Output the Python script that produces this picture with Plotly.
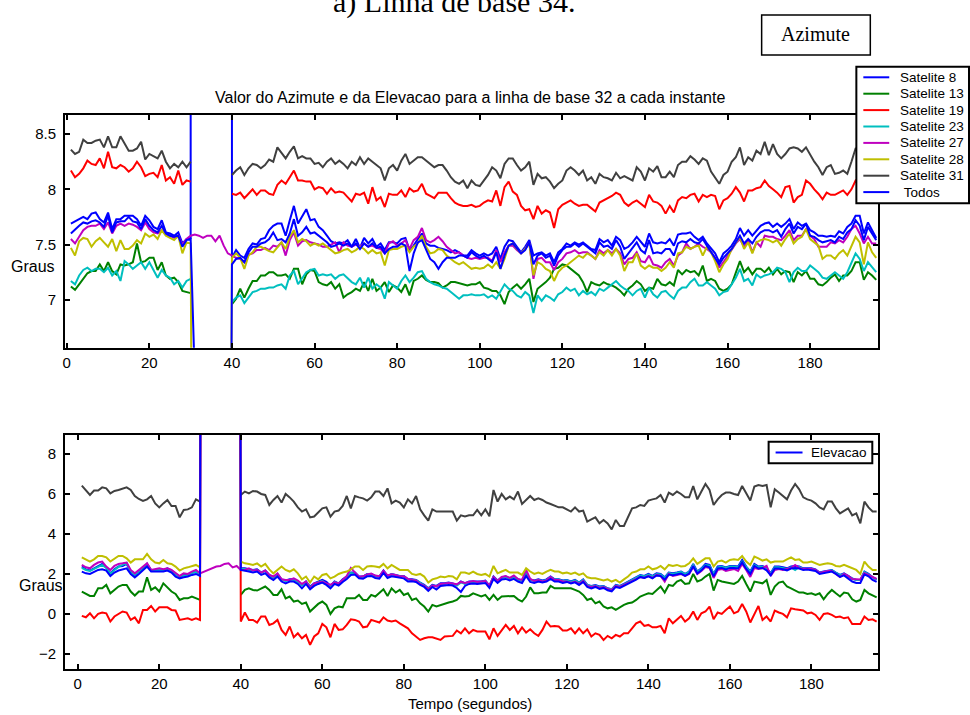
import plotly.graph_objects as go

# ---------------- data: top panel (Azimute), t = 1..196 s ----------------
az_sat8 = [
    7.69, 7.71, 7.73, 7.75, 7.73, 7.78, 7.79, 7.73, 7.70, 7.79,
    7.64, 7.73, 7.73, 7.76, 7.76, 7.76, 7.73, 7.67, 7.76, 7.72,
    7.66, 7.64, 7.72, 7.61, 7.60, 7.58, 7.61, 7.51, 7.55, 7.56,
    360, 360, 360, 360, 360, 360, 360, 360, 360,
    7.38, 7.45, 7.40, 7.38, 7.46, 7.51, 7.50, 7.55, 7.56, 7.63,
    7.67, 7.69, 7.69, 7.58, 7.72, 7.85, 7.69, 7.75, 7.82, 7.72,
    7.73, 7.66, 7.63, 7.58, 7.53, 7.51, 7.52, 7.51, 7.54, 7.48,
    7.55, 7.47, 7.56, 7.51, 7.55, 7.48, 7.51, 7.45, 7.52, 7.52,
    7.51, 7.55, 7.56, 7.45, 7.49, 7.55, 7.60, 7.51, 7.49, 7.49,
    7.47, 7.46, 7.45, 7.43, 7.45, 7.43, 7.40, 7.40, 7.45, 7.42,
    7.40, 7.42, 7.40, 7.42, 7.48, 7.37, 7.48, 7.54, 7.53, 7.48,
    7.43, 7.48, 7.54, 7.40, 7.42, 7.43, 7.40, 7.42, 7.34, 7.43,
    7.46, 7.51, 7.49, 7.52, 7.50, 7.52, 7.49, 7.46, 7.45, 7.55,
    7.52, 7.54, 7.49, 7.57, 7.54, 7.46, 7.48, 7.52, 7.57, 7.52,
    7.48, 7.60, 7.52, 7.51, 7.52, 7.51, 7.55, 7.49, 7.59, 7.60,
    7.60, 7.61, 7.57, 7.54, 7.57, 7.51, 7.46, 7.42, 7.34, 7.42,
    7.45, 7.49, 7.55, 7.65, 7.58, 7.63, 7.58, 7.63, 7.67, 7.69,
    7.70, 7.66, 7.69, 7.66, 7.69, 7.73, 7.64, 7.70, 7.67, 7.69,
    7.63, 7.61, 7.58, 7.58, 7.57, 7.58, 7.57, 7.62, 7.60, 7.66,
    7.69, 7.76, 7.76, 7.60, 7.70, 7.63, 7.56,
]
az_sat13 = [
    7.12, 7.09, 7.14, 7.19, 7.24, 7.26, 7.26, 7.32, 7.26, 7.34,
    7.26, 7.23, 7.32, 7.31, 7.32, 7.34, 7.51, 7.34, 7.35, 7.38,
    7.38, 7.27, 7.34, 7.22, 7.19, 7.20, 7.16, 7.08, 7.07, 7.06,
    None, None, None, None, None, None, None, None, None,
    6.96, 7.01, 7.10, 7.02, 7.10, 7.17, 7.17, 7.22, 7.22, 7.25,
    7.25, 7.22, 7.22, 7.23, 7.19, 7.28, 7.28, 7.14, 7.23, 7.27,
    7.26, 7.16, 7.14, 7.13, 7.16, 7.10, 7.14, 7.02, 7.05, 7.07,
    7.10, 7.08, 7.16, 7.08, 7.19, 7.08, 7.11, 7.16, 7.07, 7.13,
    7.11, 7.07, 7.14, 7.04, 7.17, 7.19, 7.22, 7.18, 7.16, 7.16,
    7.15, 7.11, 7.13, 7.16, 7.16, 7.15, 7.14, 7.13, 7.14, 7.14,
    7.16, 7.11, 7.10, 7.08, 7.08, 7.04, 6.96, 7.07, 7.11, 7.14,
    7.10, 7.14, 7.19, 6.98, 7.10, 7.13, 7.16, 7.20, 7.28, 7.29,
    7.32, 7.31, 7.28, 7.25, 7.22, 7.16, 7.07, 7.16, 7.14, 7.13,
    7.16, 7.14, 7.13, 7.11, 7.08, 7.04, 7.10, 7.13, 7.17, 7.14,
    7.08, 7.11, 7.10, 7.19, 7.14, 7.13, 7.16, 7.13, 7.27, 7.23,
    7.27, 7.25, 7.26, 7.22, 7.31, 7.17, 7.19, 7.17, 7.10, 7.08,
    7.10, 7.14, 7.25, 7.35, 7.25, 7.29, 7.23, 7.28, 7.28, 7.25,
    7.29, 7.23, 7.28, 7.23, 7.26, 7.25, 7.16, 7.25, 7.22, 7.26,
    7.19, 7.19, 7.14, 7.13, 7.16, 7.20, 7.23, 7.17, 7.22, 7.22,
    7.26, 7.34, 7.34, 7.18, 7.25, 7.22, 7.18,
]
az_sat19 = [
    8.17, 8.11, 8.14, 8.19, 8.26, 8.23, 8.22, 8.28, 8.19, 8.34,
    8.20, 8.19, 8.22, 8.20, 8.16, 8.19, 8.25, 8.20, 8.12, 8.14,
    8.15, 8.11, 8.22, 8.08, 8.11, 8.05, 8.17, 8.04, 8.08, 8.07,
    None, None, None, None, None, None, None, None, None,
    7.96, 7.95, 7.97, 7.92, 7.96, 8.00, 7.95, 7.99, 7.99, 7.96,
    7.95, 8.04, 8.08, 8.05, 8.11, 8.17, 8.08, 8.08, 8.07, 8.07,
    8.00, 8.02, 8.01, 7.96, 8.01, 7.97, 7.98, 7.97, 7.93, 7.89,
    7.96, 7.95, 7.97, 7.87, 8.02, 7.90, 7.93, 7.84, 7.96, 7.95,
    7.95, 7.99, 7.93, 8.01, 7.98, 7.99, 8.05, 7.96, 7.94, 7.92,
    7.97, 7.97, 7.97, 7.92, 7.88, 7.86, 7.85, 7.85, 7.86, 7.84,
    7.85, 7.88, 7.90, 7.89, 7.99, 7.85, 8.02, 8.07, 7.98, 7.95,
    7.85, 7.81, 7.82, 7.73, 7.85, 7.78, 7.81, 7.79, 7.65, 7.82,
    7.86, 7.88, 7.90, 7.87, 7.85, 7.86, 7.86, 7.83, 7.80, 7.88,
    7.90, 7.92, 7.94, 7.97, 7.95, 7.88, 7.85, 7.88, 7.90, 7.87,
    7.84, 7.95, 7.89, 7.88, 7.85, 7.78, 7.85, 7.79, 7.90, 7.93,
    7.92, 7.95, 7.96, 7.89, 7.95, 7.93, 7.95, 7.94, 7.82, 7.90,
    7.92, 7.96, 8.02, 7.97, 7.89, 7.99, 7.99, 8.01, 8.02, 8.08,
    8.03, 8.00, 7.97, 7.93, 8.02, 8.03, 7.88, 7.93, 7.95, 8.08,
    8.05, 8.00, 7.96, 7.91, 7.97, 7.95, 7.95, 7.97, 7.99, 7.95,
    8.00, 8.08, 8.05, 8.10, 8.08, 8.12, 8.10,
]
az_sat23 = [
    7.17, 7.14, 7.22, 7.27, 7.29, 7.26, 7.28, 7.28, 7.25, 7.29,
    7.22, 7.26, 7.17, 7.35, 7.32, 7.28, 7.31, 7.34, 7.28, 7.34,
    7.27, 7.20, 7.27, 7.22, 7.20, 7.14, 7.17, 7.11, 7.17, 7.19,
    None, None, None, None, None, None, None, None, None,
    6.98, 7.02, 7.04, 6.97, 7.02, 7.07, 7.08, 7.10, 7.10, 7.11,
    7.11, 7.13, 7.14, 7.10, 7.22, 7.26, 7.14, 7.19, 7.25, 7.27,
    7.28, 7.22, 7.23, 7.22, 7.23, 7.19, 7.22, 7.23, 7.19, 7.16,
    7.14, 7.20, 7.11, 7.20, 7.10, 7.14, 7.11, 7.01, 7.16, 7.13,
    7.10, 7.17, 7.22, 7.16, 7.20, 7.25, 7.26, 7.19, 7.16, 7.14,
    7.13, 7.11, 7.10, 7.07, 7.04, 7.01, 7.04, 7.04, 7.05, 7.04,
    7.04, 7.05, 7.02, 7.04, 7.01, 7.08, 7.14, 7.10, 7.08, 7.04,
    7.02, 7.07, 7.04, 6.88, 7.04, 6.99, 7.04, 7.02, 6.99, 7.05,
    7.07, 7.11, 7.08, 7.10, 7.04, 7.08, 7.05, 7.07, 7.04, 7.10,
    7.08, 7.11, 7.14, 7.17, 7.13, 7.10, 7.08, 7.04, 7.08, 7.10,
    7.02, 7.11, 7.05, 7.02, 7.07, 7.08, 7.04, 7.01, 7.08, 7.11,
    7.11, 7.16, 7.19, 7.13, 7.13, 7.16, 7.13, 7.10, 7.04, 7.07,
    7.08, 7.14, 7.20, 7.28, 7.17, 7.19, 7.13, 7.23, 7.20, 7.22,
    7.23, 7.25, 7.29, 7.28, 7.25, 7.16, 7.25, 7.29, 7.26, 7.26,
    7.31, 7.28, 7.25, 7.20, 7.19, 7.22, 7.25, 7.22, 7.19, 7.25,
    7.34, 7.42, 7.37, 7.26, 7.34, 7.29, 7.25,
]
az_sat27 = [
    7.55, 7.51, 7.57, 7.63, 7.66, 7.67, 7.67, 7.69, 7.64, 7.70,
    7.60, 7.67, 7.69, 7.67, 7.69, 7.68, 7.66, 7.63, 7.70, 7.64,
    7.61, 7.60, 7.63, 7.59, 7.58, 7.56, 7.58, 7.50, 7.55, 7.58,
    7.59, 7.58, 7.56, 7.58, 7.58, 7.53, 7.58, 7.49, 7.42,
    7.40, 7.38, 7.37, 7.34, 7.41, 7.42, 7.45, 7.45, 7.47, 7.45,
    7.49, 7.48, 7.52, 7.40, 7.54, 7.61, 7.49, 7.53, 7.54, 7.52,
    7.51, 7.50, 7.48, 7.48, 7.50, 7.52, 7.43, 7.52, 7.49, 7.48,
    7.50, 7.48, 7.51, 7.48, 7.49, 7.47, 7.46, 7.42, 7.51, 7.53,
    7.49, 7.51, 7.54, 7.46, 7.54, 7.57, 7.65, 7.54, 7.52, 7.54,
    7.57, 7.53, 7.48, 7.45, 7.42, 7.43, 7.40, 7.38, 7.37, 7.38,
    7.37, 7.38, 7.38, 7.35, 7.45, 7.34, 7.43, 7.49, 7.49, 7.45,
    7.42, 7.46, 7.52, 7.19, 7.37, 7.38, 7.34, 7.34, 7.27, 7.34,
    7.37, 7.42, 7.43, 7.45, 7.42, 7.43, 7.43, 7.40, 7.37, 7.45,
    7.42, 7.45, 7.42, 7.46, 7.42, 7.32, 7.37, 7.38, 7.43, 7.35,
    7.34, 7.40, 7.32, 7.31, 7.29, 7.34, 7.37, 7.31, 7.40, 7.43,
    7.51, 7.46, 7.48, 7.51, 7.48, 7.46, 7.43, 7.38, 7.29, 7.34,
    7.40, 7.45, 7.51, 7.55, 7.48, 7.54, 7.43, 7.52, 7.48, 7.58,
    7.57, 7.57, 7.55, 7.54, 7.58, 7.63, 7.54, 7.58, 7.58, 7.64,
    7.58, 7.55, 7.48, 7.48, 7.48, 7.52, 7.51, 7.54, 7.52, 7.57,
    7.64, 7.67, 7.60, 7.51, 7.57, 7.51, 7.51,
]
az_sat28 = [
    7.47, 7.40, 7.53, 7.56, 7.55, 7.48, 7.53, 7.56, 7.52, 7.48,
    7.55, 7.44, 7.54, 7.46, 7.46, 7.49, 7.54, 7.51, 7.60, 7.57,
    7.59, 7.55, 7.63, 7.58, 7.56, 7.54, 7.58, 7.42, 7.52, 7.51,
    0, 0, 0, 0, 0, 0, 0, 0, 0,
    7.38, 7.42, 7.38, 7.28, 7.40, 7.43, 7.48, 7.48, 7.46, 7.44,
    7.43, 7.48, 7.52, 7.46, 7.57, 7.63, 7.52, 7.55, 7.53, 7.49,
    7.51, 7.49, 7.51, 7.48, 7.45, 7.42, 7.43, 7.45, 7.46, 7.43,
    7.45, 7.48, 7.46, 7.42, 7.45, 7.42, 7.43, 7.31, 7.45, 7.46,
    7.46, 7.48, 7.49, 7.43, 7.48, 7.51, 7.58, 7.48, 7.42, 7.43,
    7.46, 7.45, 7.40, 7.37, 7.34, 7.32, 7.34, 7.31, 7.28, 7.29,
    7.28, 7.29, 7.32, 7.29, 7.34, 7.28, 7.37, 7.49, 7.51, 7.46,
    7.42, 7.46, 7.51, 7.22, 7.34, 7.32, 7.28, 7.26, 7.17, 7.25,
    7.29, 7.31, 7.34, 7.37, 7.40, 7.38, 7.42, 7.40, 7.37, 7.43,
    7.40, 7.45, 7.40, 7.46, 7.40, 7.26, 7.34, 7.34, 7.42, 7.31,
    7.28, 7.31, 7.29, 7.29, 7.26, 7.29, 7.34, 7.29, 7.42, 7.43,
    7.48, 7.46, 7.48, 7.49, 7.40, 7.48, 7.43, 7.35, 7.25, 7.32,
    7.37, 7.46, 7.51, 7.57, 7.46, 7.52, 7.42, 7.52, 7.54, 7.55,
    7.54, 7.52, 7.54, 7.49, 7.55, 7.60, 7.51, 7.55, 7.57, 7.64,
    7.55, 7.52, 7.49, 7.37, 7.40, 7.40, 7.37, 7.42, 7.45, 7.40,
    7.49, 7.57, 7.52, 7.32, 7.52, 7.43, 7.38,
]
az_sat31 = [
    8.36, 8.32, 8.34, 8.45, 8.42, 8.42, 8.44, 8.45, 8.38, 8.48,
    8.38, 8.38, 8.48, 8.42, 8.35, 8.35, 8.37, 8.43, 8.27, 8.32,
    8.30, 8.28, 8.35, 8.25, 8.19, 8.23, 8.20, 8.25, 8.20, 8.25,
    None, None, None, None, None, None, None, None, None,
    8.13, 8.17, 8.20, 8.13, 8.19, 8.23, 8.22, 8.19, 8.22, 8.27,
    8.25, 8.38, 8.33, 8.28, 8.34, 8.39, 8.28, 8.30, 8.28, 8.28,
    8.23, 8.24, 8.20, 8.25, 8.28, 8.23, 8.26, 8.23, 8.19, 8.25,
    8.22, 8.29, 8.23, 8.28, 8.25, 8.22, 8.19, 8.08, 8.19, 8.22,
    8.17, 8.26, 8.32, 8.23, 8.26, 8.29, 8.29, 8.26, 8.23, 8.20,
    8.22, 8.22, 8.17, 8.11, 8.07, 8.05, 8.08, 8.01, 8.08, 8.04,
    8.03, 8.08, 8.13, 8.20, 8.17, 8.10, 8.23, 8.28, 8.28, 8.22,
    8.17, 8.20, 8.25, 8.04, 8.14, 8.10, 8.11, 8.07, 8.01, 8.05,
    8.08, 8.17, 8.20, 8.17, 8.13, 8.17, 8.08, 8.11, 8.05, 8.14,
    8.11, 8.10, 8.08, 8.15, 8.10, 8.12, 8.10, 8.08, 8.20, 8.16,
    8.08, 8.19, 8.16, 8.21, 8.11, 8.11, 8.16, 8.11, 8.22, 8.25,
    8.25, 8.30, 8.27, 8.23, 8.28, 8.26, 8.16, 8.11, 8.05, 8.13,
    8.16, 8.25, 8.29, 8.38, 8.22, 8.29, 8.26, 8.35, 8.32, 8.43,
    8.31, 8.41, 8.32, 8.28, 8.32, 8.37, 8.38, 8.37, 8.34, 8.38,
    8.31, 8.25, 8.20, 8.13, 8.20, 8.22, 8.14, 8.15, 8.17, 8.14,
    8.25, 8.37, 8.38, 8.33, 8.36, 8.30, 8.34,
]
az_todos = [
    7.60, 7.64, 7.67, 7.70, 7.69, 7.71, 7.72, 7.70, 7.66, 7.76,
    7.61, 7.70, 7.71, 7.71, 7.75, 7.71, 7.70, 7.64, 7.73, 7.67,
    7.63, 7.61, 7.67, 7.60, 7.58, 7.57, 7.58, 7.48, 7.54, 7.55,
    0, 0, 0, 0, 0, 0, 0, 0, 0,
    7.32, 7.37, 7.38, 7.34, 7.43, 7.48, 7.48, 7.51, 7.52, 7.55,
    7.61, 7.54, 7.55, 7.52, 7.60, 7.73, 7.58, 7.61, 7.66, 7.60,
    7.61, 7.58, 7.55, 7.52, 7.48, 7.49, 7.51, 7.49, 7.51, 7.48,
    7.51, 7.46, 7.51, 7.48, 7.51, 7.47, 7.48, 7.42, 7.46, 7.48,
    7.48, 7.51, 7.49, 7.26, 7.42, 7.52, 7.54, 7.45, 7.37, 7.34,
    7.28, 7.34, 7.38, 7.38, 7.38, 7.40, 7.40, 7.38, 7.43, 7.40,
    7.38, 7.40, 7.37, 7.34, 7.43, 7.28, 7.40, 7.49, 7.51, 7.46,
    7.42, 7.45, 7.52, 7.32, 7.40, 7.42, 7.38, 7.40, 7.31, 7.40,
    7.45, 7.48, 7.48, 7.51, 7.48, 7.51, 7.48, 7.45, 7.42, 7.52,
    7.48, 7.49, 7.46, 7.54, 7.48, 7.37, 7.42, 7.46, 7.52, 7.45,
    7.42, 7.54, 7.42, 7.43, 7.42, 7.46, 7.46, 7.40, 7.51, 7.53,
    7.52, 7.55, 7.52, 7.51, 7.55, 7.49, 7.43, 7.38, 7.32, 7.38,
    7.42, 7.46, 7.52, 7.58, 7.51, 7.55, 7.51, 7.57, 7.61, 7.63,
    7.63, 7.61, 7.63, 7.57, 7.64, 7.69, 7.60, 7.66, 7.64, 7.69,
    7.58, 7.57, 7.54, 7.52, 7.53, 7.54, 7.52, 7.57, 7.55, 7.61,
    7.64, 7.72, 7.67, 7.54, 7.66, 7.60, 7.54,
]

# ---------------- data: bottom panel (Elevacao), t = 1..196 s ----------------
el_sat8 = [
    2.37, 2.23, 2.17, 2.28, 2.40, 2.50, 2.33, 2.03, 2.23, 2.37,
    2.40, 2.50, 2.12, 1.95, 2.12, 2.28, 2.50, 2.20, 2.20, 2.20,
    2.20, 2.28, 2.17, 2.00, 1.87, 1.95, 1.95, 2.07, 2.12, 2.00,
    90, 90, 90, 90, 90, 90, 90, 90, 90,
    2.28, 2.28, 2.23, 2.20, 2.23, 2.07, 2.17, 1.95, 1.83, 2.00,
    1.73, 1.67, 1.73, 1.73, 1.62, 1.45, 1.62, 1.37, 1.53, 1.62,
    1.70, 1.60, 1.40,
    1.62, 1.53, 1.73, 1.87, 2.07, 2.07, 1.87, 1.87, 2.00, 2.00,
    1.90, 1.87, 2.17, 1.90, 2.00, 1.95, 1.90, 1.90, 1.73, 1.73,
    1.70, 1.57, 1.45, 1.28, 1.45, 1.40, 1.53, 1.53, 1.57, 1.53,
    1.45, 1.62, 1.53, 1.62, 1.62, 1.62, 1.62, 1.67, 1.40, 1.87,
    1.67, 1.83, 1.87, 1.78, 1.87, 1.73, 1.67, 2.03, 1.73, 1.67,
    1.73, 1.67, 1.73, 1.87, 1.73, 1.73, 1.67, 1.70, 1.62, 1.70,
    1.57, 1.73, 1.45, 1.40, 1.45, 1.37, 1.40, 1.28, 1.23, 1.45,
    1.40, 1.50, 1.62, 1.73, 1.83, 1.95, 1.90, 2.00,
    1.90, 2.03, 2.00, 1.83, 2.07, 2.03, 2.07, 2.12, 2.00, 2.12,
    2.50, 2.12, 2.28, 2.50, 2.45, 2.00, 2.37, 2.40, 2.33, 2.40,
    2.40, 2.37, 2.70, 2.37, 2.12, 2.50, 2.37, 2.40, 2.28, 2.03,
    2.37, 2.37, 2.33, 2.28, 2.37, 2.40, 2.37, 2.28, 2.28, 2.28,
    2.23, 2.07, 2.12, 2.17, 2.20, 2.07, 1.95, 2.03, 1.90, 1.78,
    1.70, 1.70, 2.12, 2.00, 1.83, 1.73,
]
el_sat13 = [
    1.12, 1.00, 0.90, 0.90, 1.28, 1.28, 1.45, 1.03, 1.20, 1.37,
    1.45, 1.45, 1.12, 0.92, 1.12, 1.12, 1.83, 1.20, 1.33, 1.12,
    1.53, 1.33, 1.12, 1.00, 0.70, 0.78, 0.78, 0.87, 0.78, 0.70,
    None, None, None, None, None, None, None, None, None,
    0.95, 1.20, 1.28, 1.20, 1.17, 1.28, 1.37, 1.20, 0.95, 0.95,
    1.23, 0.78, 0.87, 0.62, 0.67, 0.50, 0.57, 0.12, 0.33, 0.50,
    0.62,
    0.45, 0.00, 0.28, 0.37, 0.33, 0.78, 0.78, 0.78, 0.95, 0.70,
    0.70, 0.95, 0.87, 1.03, 1.23, 0.90, 1.28, 1.07, 1.20, 0.95,
    1.03, 0.70, 0.78, 0.53, 0.37, 0.12, 0.45, 0.37, 0.45, 0.53,
    0.57, 0.62, 0.70, 0.90, 0.87, 0.90, 1.03, 0.95, 0.87, 0.95,
    0.70, 0.95, 0.70, 0.87, 0.87, 0.87, 0.90, 0.73, 0.62, 0.87,
    1.33, 1.03, 1.03, 1.07, 1.07, 1.40, 1.28, 1.28, 1.28, 1.28,
    1.28, 1.20, 1.12, 0.95, 0.70, 0.78, 0.53, 0.62, 0.37, 0.28,
    0.33, 0.20, 0.33, 0.45, 0.53, 0.57, 0.70, 0.87, 0.95, 1.03,
    1.00, 1.20, 1.37, 1.07, 1.45, 1.40, 1.62, 1.70, 1.50, 1.53,
    2.00, 1.62, 1.70, 1.87, 2.00, 1.17, 1.70, 1.62, 1.57, 1.53,
    1.50, 1.62, 1.90, 1.50, 1.12, 1.62, 1.57, 1.53, 1.70, 0.95,
    1.37, 1.57, 1.62, 1.37, 1.28, 1.17, 1.07, 1.07, 1.00, 1.03,
    0.95, 1.03, 0.73, 1.00, 1.20, 1.03, 0.87, 1.07, 1.03, 0.73,
    0.62, 0.70, 1.20, 1.03, 0.95, 0.83,
]
el_sat19 = [
    -0.10, -0.17, 0.03, -0.22, 0.00, 0.07, 0.03, -0.38, -0.13, 0.00,
    0.12, 0.07, -0.30, -0.17, -0.47, 0.20, 0.20, 0.40, 0.12, 0.33,
    0.33, 0.33, 0.20, 0.17, -0.30, -0.27, -0.22, -0.30, -0.22, -0.30,
    90, 90, 90, 90, 90, 90, 90, 90, 90,
    -0.38, 0.07, -0.30, -0.30, -0.43, -0.13, -0.13, -0.55, -0.47, -0.30,
    -0.80, -1.05, -0.63, -1.17, -0.97, -1.22, -1.05, -1.55, -1.13, -0.97,
    -0.50,
    -0.67, -1.17, -0.50, -0.80, -0.77, -0.55, -0.27, -0.30, -0.38, -0.67,
    -0.63, -0.30, -0.38, -0.43, -0.17, -0.33, -0.38, -0.33, -0.47, -0.60,
    -0.72, -0.97, -1.13, -1.30, -1.22, -1.17, -1.17, -1.22, -1.30, -1.13,
    -1.13, -1.10, -0.83, -0.97, -0.72, -0.97, -0.80, -0.88, -0.88, -0.88,
    -1.27, -0.72, -1.10, -0.80, -0.55, -0.80, -0.60, -0.97, -0.67, -0.93,
    -0.77, -0.97, -1.10, -0.80, -0.38, -0.63, -0.60, -0.63, -0.83, -0.83,
    -0.72, -0.97, -0.72, -0.97, -0.77, -1.13, -0.97, -1.05, -1.30, -1.10,
    -1.22, -1.05, -1.13, -0.97, -0.97, -0.72, -0.47, -0.38, -0.60, -0.55,
    -0.67, -0.67, -0.60, -0.97, -0.22, -0.47, -0.30, -0.10, -0.38, -0.22,
    0.12, -0.30, 0.03, 0.12, 0.37, -0.27, 0.07, 0.00, 0.20, 0.37,
    0.03, 0.12, 0.50, 0.12, -0.43, 0.03, 0.40, -0.30, -0.13, -0.38,
    0.17, 0.07, 0.00, -0.17, 0.28, 0.23, 0.20, 0.17, 0.03, 0.07,
    -0.05, -0.30, 0.00, 0.03, -0.05, -0.17, -0.13, -0.22, -0.17, -0.50,
    -0.50, -0.50, -0.13, -0.30, -0.27, -0.38,
]
el_sat23 = [
    2.30, 2.20, 2.15, 2.25, 2.35, 2.45, 2.30, 2.00, 2.20, 2.35,
    2.45, 2.55, 2.10, 1.95, 2.10, 2.25, 2.45, 2.18, 2.18, 2.20,
    2.18, 2.25, 2.12, 1.98, 1.85, 1.92, 1.92, 2.05, 2.10, 1.98,
    None, None, None, None, None, None, None, None, None,
    2.25, 2.25, 2.20, 2.18, 2.20, 2.05, 2.15, 1.92, 1.80, 1.98,
    1.70, 1.65, 1.70, 1.72, 1.60, 1.42, 1.60, 1.33, 1.50, 1.58,
    1.65, 1.50, 1.38,
    1.60, 1.50, 1.70, 1.85, 2.05, 2.02, 1.85, 1.85, 1.98, 1.98,
    1.88, 1.85, 2.12, 1.88, 1.98, 1.92, 1.88, 1.88, 1.72, 1.70,
    1.68, 1.55, 1.42, 1.28, 1.42, 1.38, 1.50, 1.50, 1.55, 1.50,
    1.42, 1.58, 1.50, 1.60, 1.60, 1.60, 1.60, 1.65, 1.38, 1.85,
    1.65, 1.80, 1.85, 1.75, 1.85, 1.72, 1.65, 2.00, 1.70, 1.65,
    1.70, 1.65, 1.70, 1.85, 1.72, 1.72, 1.65, 1.68, 1.60, 1.68,
    1.55, 1.70, 1.45, 1.38, 1.42, 1.35, 1.38, 1.27, 1.22, 1.43,
    1.38, 1.48, 1.60, 1.70, 1.80, 1.92, 1.88, 1.97,
    1.88, 2.00, 1.98, 1.80, 2.05, 2.00, 2.05, 2.10, 1.98, 2.10,
    2.45, 2.10, 2.25, 2.45, 2.42, 1.98, 2.33, 2.37, 2.30, 2.37,
    2.37, 2.33, 2.62, 2.33, 2.08, 2.45, 2.33, 2.37, 2.25, 2.00,
    2.33, 2.33, 2.30, 2.25, 2.33, 2.20, 2.35, 2.25, 2.25, 2.25,
    2.20, 2.05, 2.10, 2.15, 2.18, 2.05, 1.93, 2.00, 1.88, 1.76,
    1.70, 1.70, 2.10, 1.98, 1.82, 1.72,
]
el_sat27 = [
    2.45, 2.33, 2.28, 2.45, 2.57, 2.62, 2.37, 2.20, 2.40, 2.50,
    2.53, 2.57, 2.20, 2.03, 2.20, 2.37, 2.53, 2.20, 2.23, 2.28,
    2.23, 2.28, 2.20, 2.03, 1.90, 2.03, 2.00, 2.12, 2.20, 2.03,
    2.12, 2.23, 2.28, 2.37, 2.40, 2.50, 2.53, 2.33, 2.40,
    2.20, 2.20, 2.28, 2.17, 2.20, 2.07, 2.17, 1.95, 1.87, 2.03,
    1.73, 1.70, 1.70, 1.78, 1.67, 1.50, 1.62, 1.28, 1.53, 1.57,
    1.62, 1.53, 1.45,
    1.58, 1.52, 1.70, 1.90, 2.30, 2.05, 1.85, 1.88, 1.98, 2.02,
    1.92, 1.88, 2.15, 1.92, 1.98, 1.95, 1.88, 1.88, 1.75, 1.70,
    1.68, 1.50, 1.40, 1.25, 1.42, 1.38, 1.50, 1.52, 1.55, 1.52,
    1.48, 1.60, 1.55, 1.60, 1.65, 1.60, 1.62, 1.65, 1.42, 1.85,
    1.65, 1.85, 1.90, 1.80, 1.92, 1.75, 1.70, 2.20, 1.75, 1.65,
    1.70, 1.62, 1.68, 1.85, 1.70, 1.70, 1.62, 1.62, 1.55, 1.62,
    1.50, 1.65, 1.40, 1.35, 1.40, 1.30, 1.35, 1.25, 1.20, 1.40,
    1.35, 1.45, 1.55, 1.65, 1.75, 1.85, 1.80, 1.90,
    1.80, 1.95, 1.90, 1.62, 2.00, 1.90, 1.95, 2.00, 1.90, 2.00,
    2.35, 2.00, 2.15, 2.35, 2.30, 1.80, 2.20, 2.25, 2.15, 2.20,
    2.25, 2.15, 2.50, 2.20, 1.85, 2.30, 2.25, 2.30, 2.40, 1.90,
    2.20, 2.25, 2.20, 2.25, 2.30, 2.45, 2.30, 2.25, 2.25, 2.25,
    2.20, 2.05, 2.10, 2.15, 2.15, 2.00, 1.85, 2.00, 1.90, 1.75,
    1.75, 1.72, 2.05, 1.95, 1.85, 1.75,
]
el_sat28 = [
    2.83, 2.73, 2.62, 2.73, 2.90, 2.90, 2.83, 2.62, 2.78, 2.90,
    2.90, 2.78, 2.57, 2.73, 2.73, 2.73, 3.00, 2.73, 2.57, 2.53,
    2.70, 2.53, 2.50, 2.37, 2.17, 2.28, 2.33, 2.40, 2.45, 2.33,
    None, None, None, None, None, None, None, None, None,
    2.62, 2.53, 2.50, 2.45, 2.53, 2.37, 2.50, 2.23, 2.03, 2.20,
    2.37, 2.20, 2.12, 2.23, 2.03, 1.73, 1.87, 1.57, 1.87, 1.73,
    1.95,
    2.00, 1.78, 1.87, 2.00, 2.07, 2.12, 2.23, 2.37, 2.37, 2.20,
    2.37, 2.40, 2.37, 2.33, 2.50, 2.28, 2.45, 2.33, 2.20, 2.20,
    2.20, 2.00, 1.95, 2.00, 1.87, 1.57, 1.73, 1.78, 1.87, 1.83,
    1.90, 1.87, 1.73, 2.07, 2.07, 2.00, 2.12, 2.00, 1.95, 2.00,
    1.87, 2.40, 2.03, 2.12, 2.20, 2.07, 2.07, 2.07, 1.95, 2.28,
    2.12, 2.00, 2.07, 2.00, 2.12, 2.20, 2.12, 2.12, 2.03, 2.07,
    2.00, 2.07, 1.95, 2.03, 1.83, 1.78, 1.78, 1.73, 1.67, 1.73,
    1.62, 1.70, 1.57, 1.73, 1.87, 2.07, 2.12, 2.23, 2.23, 2.37,
    2.23, 2.28, 2.40, 2.23, 2.45, 2.40, 2.45, 2.37, 2.40, 2.53,
    2.78, 2.50, 2.62, 2.78, 2.78, 2.37, 2.62, 2.67, 2.57, 2.70,
    2.73, 2.70, 2.90, 2.62, 2.45, 2.87, 2.78, 2.67, 2.73, 2.57,
    2.62, 2.62, 2.62, 2.73, 2.83, 2.70, 2.73, 2.57, 2.57, 2.62,
    2.53, 2.45, 2.50, 2.53, 2.50, 2.40, 2.37, 2.45, 2.37, 2.28,
    2.20, 2.00, 2.62, 2.37, 2.20, 2.20,
]
el_sat31 = [
    6.42, 6.20, 5.95, 6.17, 6.17, 6.33, 6.28, 6.03, 6.15, 6.20,
    6.28, 6.33, 6.20, 5.90, 5.75, 5.65, 5.73, 5.90, 5.53, 5.33,
    5.53, 5.70, 5.40, 5.40, 4.83, 5.20, 5.23, 5.33, 5.73, 5.62,
    None, None, None, None, None, None, None, None, None,
    5.95, 6.12, 6.03, 6.15, 6.12, 6.00, 5.95, 5.45, 5.70, 5.90,
    5.57, 6.00, 5.83, 5.62, 5.33, 5.12, 5.23, 4.83, 4.87, 5.07,
    5.28,
    5.33, 4.87, 5.12, 5.17, 5.40, 5.90, 5.28, 5.90, 5.83, 5.78,
    5.67, 5.83, 6.12, 6.12, 5.90, 6.28, 5.53, 5.67, 5.57, 5.33,
    5.73, 5.53, 5.90, 5.23, 4.93, 4.67, 5.23, 5.12, 5.12, 5.12,
    5.12, 5.12, 4.67, 4.93, 4.88, 4.93, 4.93, 5.20, 4.93, 5.23,
    4.88, 6.20, 5.62, 6.00, 5.73, 5.87, 5.73, 6.12, 5.50, 5.70,
    5.90, 5.70, 5.78, 5.70, 5.57, 5.50, 5.40, 5.33, 5.33, 5.23,
    5.12, 5.33, 5.12, 5.17, 4.62, 4.73, 4.83, 4.53, 4.70, 4.53,
    4.23, 4.70, 4.40, 4.40, 4.87, 5.28, 5.33, 5.45, 5.40, 5.67,
    5.73, 5.78, 5.95, 5.57, 6.07, 5.95, 6.12, 6.00, 5.83, 5.83,
    6.40, 5.73, 6.12, 6.50, 6.20, 5.45, 5.73, 5.95, 6.07, 6.07,
    6.00, 5.95, 6.40, 6.07, 5.67, 6.37, 6.45, 6.40, 6.45, 5.33,
    6.23, 6.07, 5.90, 5.73, 6.17, 6.50, 6.23, 5.83, 5.73, 5.67,
    5.53, 5.33, 5.23, 5.62, 5.62, 5.28, 5.03, 5.17, 5.28, 4.93,
    5.03, 4.53, 5.62, 5.33, 5.12, 5.12,
]
el_todos = [
    2.12, 2.03, 2.00, 2.12, 2.20, 2.23, 2.17, 1.90, 2.07, 2.17,
    2.23, 2.28, 2.00, 1.83, 2.00, 2.17, 2.37, 2.12, 2.12, 2.12,
    2.12, 2.17, 2.07, 1.87, 1.78, 1.83, 1.87, 1.95, 2.00, 1.90,
    90, 90, 90, 90, 90, 90, 90, 90, 90,
    2.20, 2.17, 2.12, 2.07, 2.12, 1.95, 2.03, 1.83, 1.70, 1.87,
    1.62, 1.53, 1.62, 1.62, 1.50, 1.28, 1.50, 1.23, 1.40, 1.50,
    1.57, 1.45, 1.28,
    1.50, 1.42, 1.60, 1.75, 1.95, 1.97, 1.78, 1.76, 1.88, 1.90,
    1.80, 1.76, 2.05, 1.80, 1.88, 1.85, 1.80, 1.78, 1.62, 1.63,
    1.60, 1.45, 1.35, 1.15, 1.35, 1.22, 1.40, 1.42, 1.45, 1.42,
    1.30, 1.10, 1.40, 1.50, 1.52, 1.50, 1.52, 1.55, 1.30, 1.75,
    1.55, 1.72, 1.75, 1.67, 1.75, 1.62, 1.55, 1.90, 1.60, 1.55,
    1.62, 1.57, 1.62, 1.75, 1.62, 1.62, 1.55, 1.60, 1.52, 1.58,
    1.45, 1.60, 1.35, 1.28, 1.35, 1.25, 1.30, 1.18, 1.13, 1.35,
    1.30, 1.40, 1.52, 1.62, 1.72, 1.85, 1.80, 1.88,
    1.78, 1.92, 1.90, 1.72, 1.97, 1.93, 1.97, 2.02, 1.90, 2.02,
    2.38, 2.02, 2.18, 2.40, 2.33, 1.88, 2.27, 2.30, 2.22, 2.30,
    2.30, 2.27, 2.58, 2.25, 2.00, 2.40, 2.27, 2.30, 2.18, 1.93,
    2.27, 2.27, 2.23, 2.18, 2.27, 2.30, 2.27, 2.20, 2.22, 2.20,
    2.15, 2.00, 2.05, 2.10, 2.12, 2.00, 1.85, 1.93, 1.78, 1.62,
    1.55, 1.55, 1.98, 1.88, 1.70, 1.60,
]

names = ["Satelite 8", "Satelite 13", "Satelite 19", "Satelite 23",
         "Satelite 27", "Satelite 28", "Satelite 31", " Todos"]
colors = ["#0000FF", "#008000", "#FF0000", "#00BFBF",
          "#BF00BF", "#BFBF00", "#404040", "#0000FF"]
top_series = [az_sat8, az_sat13, az_sat19, az_sat23, az_sat27, az_sat28, az_sat31, az_todos]
bot_series = [el_sat8, el_sat13, el_sat19, el_sat23, el_sat27, el_sat28, el_sat31, el_todos]

W, H = 970, 715
def fx(p): return p / W
def fy(p): return 1 - p / H

fig = go.Figure()
for name, col, ys in zip(names, colors, top_series):
    fig.add_trace(go.Scatter(x=list(range(1, len(ys) + 1)), y=ys, mode="lines", name=name,
                             line=dict(color=col, width=2), xaxis="x", yaxis="y",
                             showlegend=False, hoverinfo="skip"))
for name, col, ys in zip(names, colors, bot_series):
    fig.add_trace(go.Scatter(x=list(range(1, len(ys) + 1)), y=ys, mode="lines", name=name,
                             line=dict(color=col, width=2), xaxis="x2", yaxis="y2",
                             showlegend=False, hoverinfo="skip"))

SANS = "Liberation Sans, Arial, sans-serif"
SERIF = "Liberation Serif, Times New Roman, serif"
axis_common = dict(showline=True, linewidth=2, linecolor="black", mirror="ticks",
                   ticks="inside", ticklen=5, tickwidth=2, tickcolor="black",
                   showgrid=False, zeroline=False,
                   tickfont=dict(family=SANS, size=15, color="black"))

xdom = [fx(62.3), fx(878)]
fig.update_layout(
    width=W, height=H, margin=dict(l=0, r=0, t=0, b=0),
    paper_bgcolor="white", plot_bgcolor="white",
    font=dict(family=SANS, size=15, color="black"),
    xaxis=dict(domain=xdom, anchor="y", range=[-0.4, 196.5],
               tickvals=[0, 20, 40, 60, 80, 100, 120, 140, 160, 180], **axis_common),
    yaxis=dict(domain=[fy(347.7), fy(115)], anchor="x", range=[6.566, 8.673],
               tickvals=[7, 7.5, 8, 8.5], ticktext=["7", "7.5", "8", "8.5"],
               ticklabelstandoff=4, **axis_common),
    xaxis2=dict(domain=xdom, anchor="y2", range=[-3.1, 196.4],
                tickvals=[0, 20, 40, 60, 80, 100, 120, 140, 160, 180], **axis_common),
    yaxis2=dict(domain=[fy(669.3), fy(435)], anchor="x2", range=[-2.77, 8.95],
                tickvals=[-2, 0, 2, 4, 6, 8], ticklabelstandoff=4, **axis_common),
)

shapes = []
ann = []
def text(s, x, y, size, family=SANS, xanchor="center", yanchor="middle"):
    ann.append(dict(text=s, x=fx(x), y=fy(y), xref="paper", yref="paper",
                    xanchor=xanchor, yanchor=yanchor, showarrow=False,
                    font=dict(family=family, size=size, color="black")))

# headers
text("a) Linha de base 34.", 452, 2, 30, family=SERIF)
shapes.append(dict(type="rect", xref="paper", yref="paper", x0=fx(761), x1=fx(870),
                   y0=fy(15), y1=fy(55), line=dict(color="black", width=1.5)))
text("Azimute", 815, 34, 20, family=SERIF)
text("Valor do Azimute e da Elevacao para a linha de base 32 a cada instante", 468, 98, 16)
text("Graus", 30, 266, 16)
text("Graus", 38, 585, 16)
text("Tempo (segundos)", 468, 703, 15)

# legend (top)
shapes.append(dict(type="rect", xref="paper", yref="paper", x0=fx(856), x1=fx(969),
                   y0=fy(66.7), y1=fy(203.3), line=dict(color="black", width=2),
                   fillcolor="white", layer="above"))
for i, (name, col) in enumerate(zip(names, colors)):
    yy = 77.3 + 16.4 * i
    shapes.append(dict(type="line", xref="paper", yref="paper", x0=fx(863), x1=fx(889),
                       y0=fy(yy), y1=fy(yy), line=dict(color=col, width=2), layer="above"))
    text(name.replace(" ", "\u00a0"), 898, yy, 13.5, xanchor="left")

# legend (bottom)
shapes.append(dict(type="rect", xref="paper", yref="paper", x0=fx(768), x1=fx(872),
                   y0=fy(441.7), y1=fy(463.3), line=dict(color="black", width=2),
                   fillcolor="white", layer="above"))
shapes.append(dict(type="line", xref="paper", yref="paper", x0=fx(775), x1=fx(802),
                   y0=fy(452.5), y1=fy(452.5), line=dict(color="#0000FF", width=2), layer="above"))
text("Elevacao", 808, 452.5, 13.5, xanchor="left")

fig.update_layout(shapes=shapes, annotations=ann, hovermode=False)
fig.write_html("out.html", config={"displayModeBar": False, "staticPlot": True},
               post_script="document.body.style.margin='0px';document.body.style.overflow='hidden';")
